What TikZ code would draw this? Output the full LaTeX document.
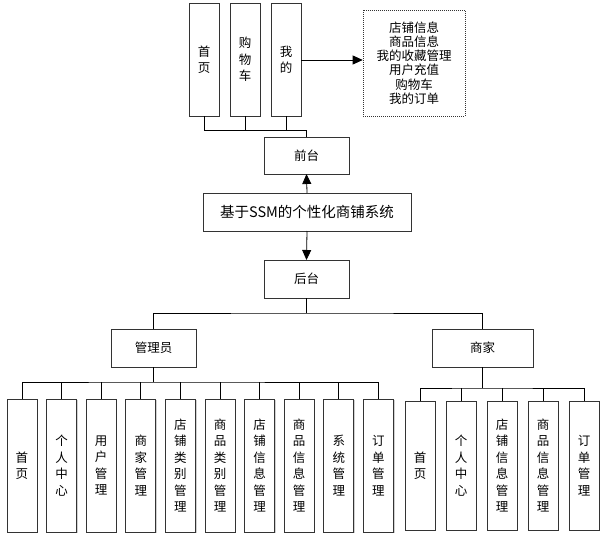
\documentclass[tikz,border=0pt]{standalone}
\usepackage{fontspec}
\setmainfont{Noto Sans CJK SC}
\usetikzlibrary{arrows.meta,shadows}
\begin{document}
\begin{tikzpicture}[x=1pt,y=-1pt,
  box/.style={draw=black!80,line width=0.8pt,fill=white,inner sep=0pt,outer sep=0pt,
    align=center,drop shadow={shadow xshift=1.2pt,shadow yshift=-1.2pt,fill=black!30,opacity=0.6},
    font=\fontsize{12.5}{16.5}\selectfont},
  vbox/.style={box,minimum width=30pt},
  hbox/.style={box,minimum height=38pt},
  conn/.style={draw=black,line width=0.8pt},
  arr/.style={conn,-{Triangle[length=10pt,width=9pt]}}]
\useasboundingbox (0,0) rectangle (613,541);
% top
\node[vbox,minimum height=113pt] (home) at (204,59.5) {首\\页};
\node[vbox,minimum height=113pt] (cart) at (245,59.5) {购\\物\\车};
\node[vbox,minimum height=113pt] (mine) at (286,59.5) {我\\的};
\node[draw=black!80,dashed,dash pattern=on 1pt off 1pt,line width=0.6pt,minimum width=102pt,minimum height=106pt,inner sep=0pt,align=center,
  font=\fontsize{12.5}{14.2}\selectfont] (list) at (414,63) {店铺信息\\商品信息\\我的收藏管理\\用户充值\\购物车\\我的订单};
\node[hbox,minimum width=85pt,minimum height=37pt] (qt) at (306.5,155.5) {前台};
\node[hbox,minimum width=208pt,font=\fontsize{14.5}{16}\selectfont] (sys) at (307,212) {基于SSM的个性化商铺系统};
\node[hbox,minimum width=85pt] (ht) at (306.5,279) {后台};
\node[hbox,minimum width=85pt] (admin) at (153.5,348) {管理员};
\node[hbox,minimum width=101pt] (merch) at (482.5,348) {商家};
% top connectors
\coordinate (j1) at (qt.north |- 0,130);
\draw[conn] (home.south) |- (j1) -- (qt.north);
\draw[conn] (cart.south) -- (cart.south |- j1);
\draw[conn] (mine.south) -- (mine.south |- j1);
\draw[arr] (mine.east |- 0,60) -- (list.west |- 0,60);
\draw[arr] (sys.north) -- (qt.south);
\draw[arr] (sys.south) -- (ht.south |- ht.north);
% backend split
\coordinate (j2) at (ht.south |- 0,313);
\draw[conn] (ht.south) -- (j2);
\draw[conn] (admin.north) |- (j2) -| (merch.north);
% admin children
\foreach \n/\x/\t in {a1/7/首\\页, a2/46.6/个\\人\\中\\心, a3/86.2/用\\户\\管\\理, a4/125.8/商\\家\\管\\理,
  a5/165.4/店\\铺\\类\\别\\管\\理, a6/205/商\\品\\类\\别\\管\\理, a7/244.6/店\\铺\\信\\息\\管\\理,
  a8/284.2/商\\品\\信\\息\\管\\理, a9/323.8/系\\统\\管\\理, a10/363.4/订\\单\\管\\理}{
  \node[vbox,minimum height=133pt] (\n) at (\x+15,465.5) {\t};
}
\coordinate (ja) at (admin.south |- 0,382);
\draw[conn] (admin.south) -- (ja);
\draw[conn] (a1.north) |- (ja) -| (a10.north);
\foreach \n in {a2,a3,a4,a5,a6,a7,a8,a9}{
  \draw[conn] (\n.north) -- (\n.north |- ja);
}
% merchant children
\foreach \n/\x/\t in {m1/405/首\\页, m2/446/个\\人\\中\\心, m3/487/店\\铺\\信\\息\\管\\理,
  m4/528/商\\品\\信\\息\\管\\理, m5/569/订\\单\\管\\理}{
  \node[vbox,minimum height=129pt] (\n) at (\x+15,465.5) {\t};
}
\coordinate (jm) at (merch.south |- 0,388);
\draw[conn] (merch.south) -- (jm);
\draw[conn] (m1.north) |- (jm) -| (m5.north);
\foreach \n in {m2,m3,m4}{
  \draw[conn] (\n.north) -- (\n.north |- jm);
}
\end{tikzpicture}
\end{document}
